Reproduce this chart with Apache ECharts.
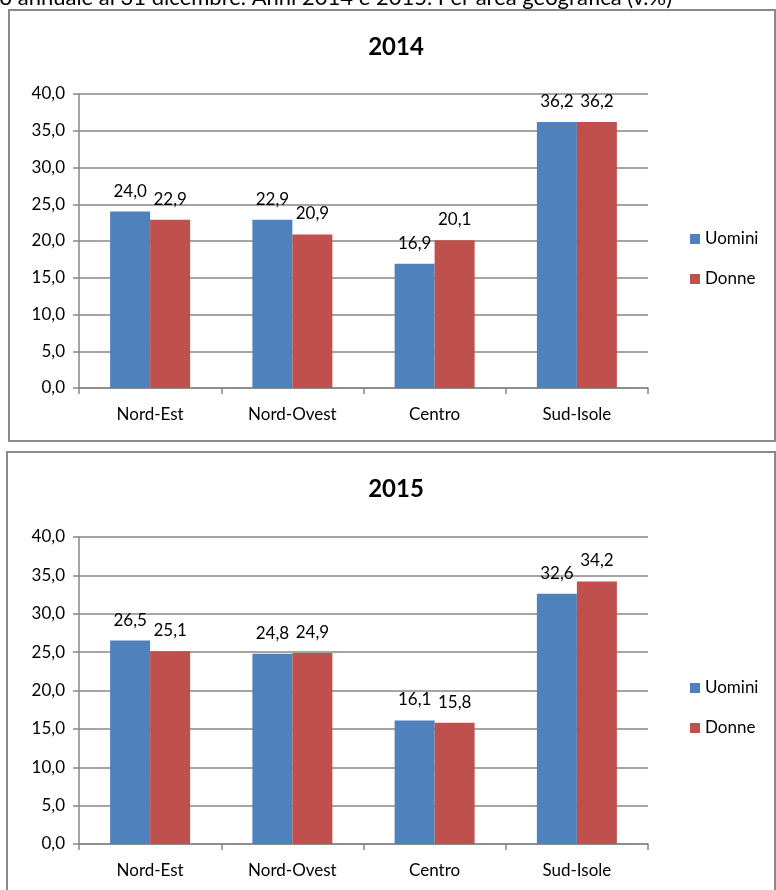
<!DOCTYPE html>
<html>
<head>
<meta charset="utf-8">
<script src="https://cdn.jsdelivr.net/npm/echarts@6/dist/echarts.min.js"></script>
<style>
html,body{margin:0;padding:0;background:#fff;}
#c{width:776px;height:890px;}
</style>
</head>
<body>
<div id="c"></div>
<script>
var categories = ['Nord-Est', 'Nord-Ovest', 'Centro', 'Sud-Isole'];
var seriesNames = ['Uomini', 'Donne'];
var uomini2014 = [24.0, 22.9, 16.9, 36.2];
var donne2014 = [22.9, 20.9, 20.1, 36.2];
var uomini2015 = [26.5, 24.8, 16.1, 32.6];
var donne2015 = [25.1, 24.9, 15.8, 34.2];
var panelTitles = ['2014', '2015'];
var headerText = 'Famiglie con reddito annuale al 31 dicembre. Anni 2014 e 2015. Per area geografica (v.%)';

var FONT = 'Lato, "Open Sans", sans-serif';
var BLUE = '#4F81BD', RED = '#C0504D', GRID = '#878787';
function fmt(v){ return (typeof v === 'object' ? v.value : v).toFixed(1).replace('.', ','); }

function yAx(gi){
  return {
    type: 'value', gridIndex: gi, min: 0, max: 40, interval: 5,
    axisLine: {show: true, lineStyle: {color: GRID, width: 1.5}},
    axisTick: {show: true, length: 6, lineStyle: {color: GRID, width: 1.5}},
    splitLine: {lineStyle: {color: GRID, width: 1.5}},
    axisLabel: {color: '#000', fontFamily: FONT, fontSize: 17, margin: 14, formatter: function(v){ return v.toFixed(1).replace('.', ','); }}
  };
}
function xAx(gi){
  return {
    type: 'category', gridIndex: gi, data: categories,
    axisLine: {show: true, lineStyle: {color: GRID, width: 1.5}},
    axisTick: {show: true, length: 6, alignWithLabel: false, lineStyle: {color: GRID, width: 1.5}},
    axisLabel: {color: '#000', fontFamily: FONT, fontSize: 17, margin: 18}
  };
}
function bar(name, data, gi, color){
  return {
    name: name, type: 'bar', xAxisIndex: gi, yAxisIndex: gi, data: data,
    barWidth: 40, barGap: '0%',
    itemStyle: {color: color},
    label: {show: true, position: 'top', distance: 12, color: '#000', fontFamily: FONT, fontSize: 17, formatter: function(p){ return fmt(p.value); }}
  };
}
function legend(top){
  return {
    data: seriesNames, orient: 'vertical', left: 685, top: top,
    icon: 'rect', itemWidth: 10, itemHeight: 10, itemGap: 22,
    textStyle: {fontFamily: FONT, fontSize: 17, color: '#000', lineHeight: 18}
  };
}

var chart = echarts.init(document.getElementById('c'), null, {renderer: 'canvas'});
chart.setOption({
  animation: false,
  grid: [
    {left: 79, right: 128, top: 94, height: 294},
    {left: 79, right: 128, top: 537, height: 307}
  ],
  xAxis: [xAx(0), xAx(1)],
  yAxis: [yAx(0), yAx(1)],
  legend: [legend(225), legend(674)],
  series: [
    bar(seriesNames[0], uomini2014, 0, BLUE),
    bar(seriesNames[1], donne2014, 0, RED),
    bar(seriesNames[0], uomini2015, 1, BLUE),
    bar(seriesNames[1], donne2015, 1, RED)
  ],
  graphic: [
    {type: 'rect', shape: {x: 9, y: 10, width: 766, height: 431}, style: {fill: null, stroke: '#8a8a8a', lineWidth: 2}, z: -1},
    {type: 'rect', shape: {x: 7, y: 452, width: 768, height: 460}, style: {fill: null, stroke: '#8a8a8a', lineWidth: 2}, z: -1},
    {type: 'text', x: 672, y: -2, style: {text: headerText, font: '22px ' + FONT, fill: '#000', textAlign: 'right', textVerticalAlign: 'middle'}},
    {type: 'text', x: 396, y: 47, style: {text: panelTitles[0], font: 'bold 24px ' + FONT, fill: '#000', textAlign: 'center', textVerticalAlign: 'middle'}},
    {type: 'text', x: 396, y: 489, style: {text: panelTitles[1], font: 'bold 24px ' + FONT, fill: '#000', textAlign: 'center', textVerticalAlign: 'middle'}}
  ]
});
</script>
</body>
</html>
